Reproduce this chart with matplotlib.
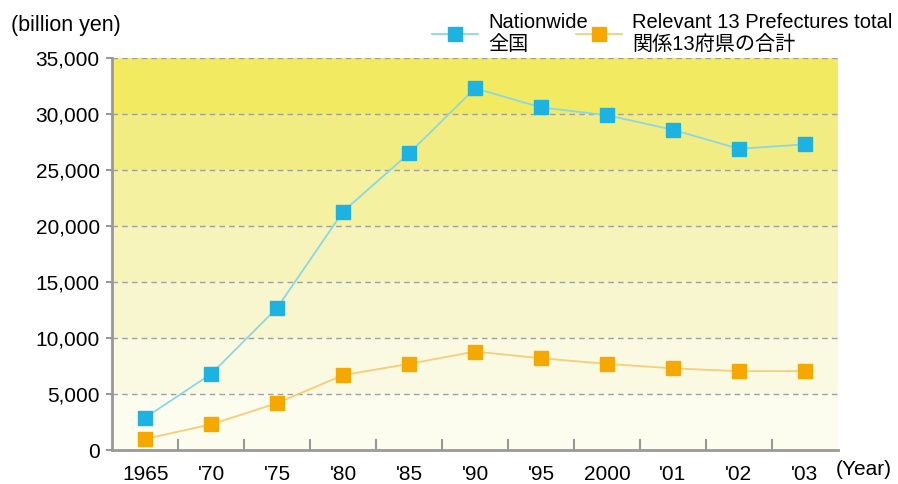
import matplotlib.pyplot as plt
from matplotlib.lines import Line2D
import numpy as np

plt.rcParams['font.family'] = ['Liberation Sans', 'Noto Sans CJK JP']

# data (billion yen)
years = ['1965', "'70", "'75", "'80", "'85", "'90", "'95", '2000', "'01", "'02", "'03"]
nationwide = [2900, 6800, 12700, 21300, 26500, 32300, 30600, 29900, 28600, 26900, 27300]
prefectures = [1000, 2300, 4200, 6700, 7700, 8800, 8200, 7700, 7300, 7050, 7050]

y_ticks = [0, 5000, 10000, 15000, 20000, 25000, 30000, 35000]
band_colors = ['#fcfcef', '#fafae2', '#f8f6cf', '#f6f4ba', '#f4f1a1', '#f2ed83', '#f2eb62']

fig = plt.figure(figsize=(8.98, 4.84), dpi=100)
ax = fig.add_axes([0.125, 0.07, 0.808, 0.81])

# banded background
for lo, hi, c in zip(y_ticks[:-1], y_ticks[1:], band_colors):
    ax.axhspan(lo, hi, color=c, zorder=0, lw=0)
for v in y_ticks[1:]:
    ax.axhline(v, color='#a0a0a0', ls=(0, (4, 3)), lw=1, zorder=1)

x = np.arange(len(years))
ax.plot(x, nationwide, color='#8ad8e4', lw=1.3, marker='s', ms=10,
        mfc='#1cb2e2', mec='#1cb2e2', zorder=3)
ax.plot(x, prefectures, color='#f8cc78', lw=1.3, marker='s', ms=10,
        mfc='#f5a800', mec='#f5a800', zorder=3)

ax.set_xlim(-0.5, len(years) - 0.5)
ax.set_ylim(0, 35000)
ax.set_xticks(x)
ax.set_xticklabels(years)
ax.set_xticks(x[:-1] + 0.5, minor=True)
ax.tick_params(axis='x', which='major', length=0, pad=11, labelsize=15)
ax.tick_params(axis='x', which='minor', direction='in', length=8, width=1.5, color='#999999')
ax.set_yticks(y_ticks)
ax.set_yticklabels([f'{v:,}' for v in y_ticks])
ax.tick_params(axis='y', length=4, width=1.5, color='#999999', labelsize=15, pad=5)

for s in ['top', 'right']:
    ax.spines[s].set_visible(False)
for s in ['left', 'bottom']:
    ax.spines[s].set_color('#999999')
    ax.spines[s].set_linewidth(2)

fig.text(0.012, 0.948, '(billion yen)', fontsize=15.5, va='center', ha='left')
fig.text(0.962, 0.029, '(Year)', fontsize=15, va='center', ha='center')

handles = [
    Line2D([], [], color='#8ad8e4', lw=1.3, marker='s', ms=10, mfc='#1cb2e2', mec='#1cb2e2'),
    Line2D([], [], color='#f8cc78', lw=1.3, marker='s', ms=10, mfc='#f5a800', mec='#f5a800'),
]
ax.legend(handles, ['Nationwide\n全国', 'Relevant 13 Prefectures total\n関係13府県の合計'],
          ncol=2, frameon=False, fontsize=14.5, loc='lower left',
          bbox_to_anchor=(0.435, 1.0), borderaxespad=0, borderpad=0.2,
          handlelength=2.3, columnspacing=-0.6, handletextpad=0.5, labelspacing=0.1)

plt.savefig('out.png', dpi=100)
